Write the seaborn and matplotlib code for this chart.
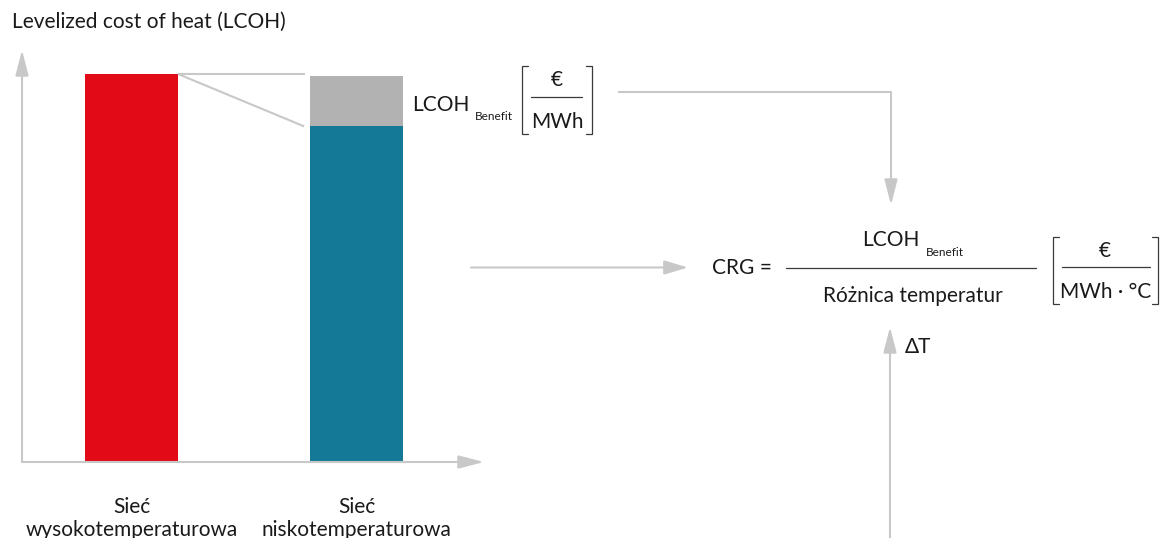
import matplotlib
matplotlib.use("Agg")
import matplotlib.pyplot as plt
import seaborn as sns
import pandas as pd

# ---- data ----
categories = ["Sieć\nwysokotemperaturowa", "Sieć\nniskotemperaturowa"]
lcoh = [100.0, 86.5]          # levelized cost of heat (relative)
benefit = [0.0, 13.0]         # LCOH benefit of low-temperature network
total = [a + b for a, b in zip(lcoh, benefit)]

RED = "#e20a17"
TEAL = "#137996"
GREY = "#b2b2b2"
LINE = "#c8c8c8"
TXT = "#1a1a1a"
DARK = "#3a3a3a"
FS = 15
FSS = 8.5

sns.set_theme(style="white")
plt.rcParams['font.family'] = ['Lato', 'DejaVu Sans']

W, H = 1161, 538
fig = plt.figure(figsize=(W / 100, H / 100), dpi=100)

# ---- bar axes (placed in pixel box) ----
x0, x1, yb, yt = 22, 484, 462, 50
ax = fig.add_axes([x0 / W, 1 - yb / H, (x1 - x0) / W, (yb - yt) / H])
df = pd.DataFrame({"cat": categories, "lcoh": lcoh, "total": total})
bw = 93 / 225
sns.barplot(data=df, x="cat", y="total", hue="cat", palette=[RED, GREY],
            width=bw, legend=False, ax=ax, saturation=1, linewidth=0)
sns.barplot(data=df, x="cat", y="lcoh", hue="cat", palette=[RED, TEAL],
            width=bw, legend=False, ax=ax, saturation=1, linewidth=0)
ax.set_xlim(-109.5 / 225, 352.5 / 225)
ax.set_ylim(0, 100 * 412 / 388)
ax.set_xlabel("")
ax.set_ylabel("")
ax.set_yticks([])
for s in ax.spines.values():
    s.set_visible(False)
ax.tick_params(axis="x", length=0, pad=25, labelsize=FS, labelcolor=TXT)
for t in ax.get_xticklabels():
    t.set_linespacing(1.2)
ax.patch.set_alpha(0)

# connector lines between bars
ax.plot([bw / 2, 1 - bw / 2 - 0.022], [lcoh[0], lcoh[0]], color=LINE, lw=1.5,
        solid_capstyle="butt")
ax.plot([bw / 2, 1 - bw / 2 - 0.026], [lcoh[0], lcoh[1]], color=LINE, lw=1.5,
        solid_capstyle="butt")

# ---- overlay in pixel coordinates ----
ov = fig.add_axes([0, 0, 1, 1])
ov.set_xlim(0, W)
ov.set_ylim(H, 0)
ov.axis("off")


def arrow(xa, ya, xb, yb_, hl=15.5, hw=4.0):
    ov.annotate("", xy=(xb, yb_), xytext=(xa, ya),
                arrowprops=dict(arrowstyle=f"-|>,head_length={hl},head_width={hw}",
                                color=LINE, lw=1.5, shrinkA=0, shrinkB=0,
                                mutation_scale=1))


def bracket(x, ytop, ybot, side):
    d = 6 if side == "l" else -6
    ov.plot([x + d, x, x, x + d], [ytop, ytop, ybot, ybot], color=DARK, lw=0.9,
            solid_joinstyle="miter")


# chart axes arrows
arrow(22, 462, 22, 50)
arrow(22, 462, 484, 462)

ov.text(12, 22, "Levelized cost of heat (LCOH)", ha="left", va="center",
        fontsize=FS, color=TXT)

# LCOH benefit unit
ov.text(412, 105, "LCOH", ha="left", va="center", fontsize=FS, color=TXT)
ov.text(475, 117, "Benefit", ha="left", va="center", fontsize=FSS, color=TXT)
bracket(522, 66, 134, "l")
bracket(592, 66, 134, "r")
ov.text(557, 80, "€", ha="center", va="center", fontsize=FS, color=TXT)
ov.plot([531, 582], [97, 97], color=DARK, lw=0.9)
ov.text(557, 122, "MWh", ha="center", va="center", fontsize=FS, color=TXT)

# connector to formula
ov.plot([618, 891], [92, 92], color=LINE, lw=1.5, solid_capstyle="butt")
arrow(891, 92, 891, 205)
arrow(471, 267.5, 688, 267.5, hl=14.5, hw=4.3)

# formula
ov.text(712, 268, "CRG =", ha="left", va="center", fontsize=FS, color=TXT)
ov.plot([786, 1036], [268, 268], color=DARK, lw=0.9)
ov.text(862, 240, "LCOH", ha="left", va="center", fontsize=FS, color=TXT)
ov.text(926, 252, "Benefit", ha="left", va="center", fontsize=FSS, color=TXT)
ov.text(913, 296, "Różnica temperatur", ha="center", va="center", fontsize=FS,
        color=TXT)
bracket(1053, 237, 304, "l")
bracket(1158, 237, 304, "r")
ov.text(1105, 251, "€", ha="center", va="center", fontsize=FS, color=TXT)
ov.plot([1062, 1150], [267, 267], color=DARK, lw=0.9)
ov.text(1106, 292, "MWh · °C", ha="center", va="center", fontsize=FS, color=TXT)

# delta T arrow
arrow(890, 540, 890, 327)
ov.text(905, 347, "ΔT", ha="left", va="center", fontsize=FS, color=TXT)

fig.savefig("out.png", dpi=100)
